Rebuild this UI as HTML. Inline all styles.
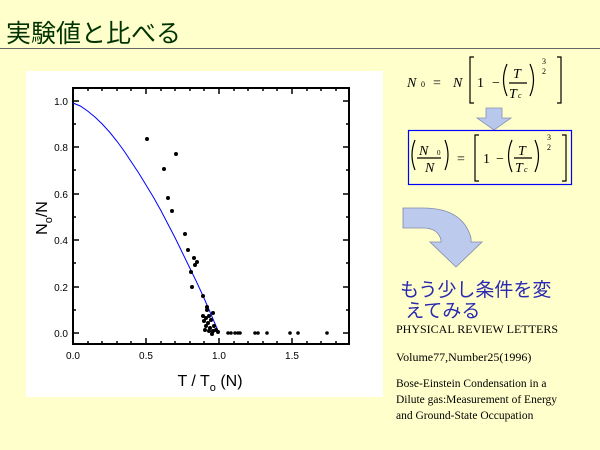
<!DOCTYPE html>
<html><head><meta charset="utf-8"><style>
body{margin:0;width:600px;height:450px;background:#ffffcc;position:relative;overflow:hidden;font-family:"Liberation Sans",sans-serif}
.a{position:absolute;white-space:nowrap}
.ser{font-family:"Liberation Serif",serif;color:#000}
</style></head><body>
<div class="a" style="left:6px;top:19px;font-size:25px;color:#003300;font-family:'Liberation Sans','Noto Sans CJK JP',sans-serif;line-height:30px">実験値と比べる</div>
<div class="a" style="left:0;top:48px;width:600px;height:1px;background:#666"></div>
<div class="a" style="left:26px;top:71px;width:357px;height:326px;background:#fff"></div>
<svg class="a" style="left:0;top:0" width="600" height="450" font-family="Liberation Sans, sans-serif">
<rect x="73" y="88" width="276" height="256" fill="none" stroke="#000" stroke-width="2"/>
<g stroke="#000" stroke-width="1.5">
<path d="M73 101h6M73 147h6M73 194h6M73 240h6M73 287h6M73 333h6M349 101h-6M349 147h-6M349 194h-6M349 240h-6M349 287h-6M349 333h-6"/>
<path d="M73 124h3M73 170h3M73 217h3M73 263h3M73 310h3M349 124h-3M349 170h-3M349 217h-3M349 263h-3M349 310h-3"/>
<path d="M146 344v-6M219 344v-6M292 344v-6M146 88v6M219 88v6M292 88v6"/>
<path d="M88 344v-3M102 344v-3M117 344v-3M131 344v-3M161 344v-3M175 344v-3M190 344v-3M204 344v-3M234 344v-3M248 344v-3M263 344v-3M277 344v-3M307 344v-3M321 344v-3M336 344v-3"/>
<path d="M88 88v3M102 88v3M117 88v3M131 88v3M161 88v3M175 88v3M190 88v3M204 88v3M234 88v3M248 88v3M263 88v3M277 88v3M307 88v3M321 88v3M336 88v3"/>
</g>
<g font-size="10" fill="#000" text-anchor="end">
<text x="68" y="105">1.0</text><text x="68" y="151">0.8</text><text x="68" y="198">0.6</text><text x="68" y="244">0.4</text><text x="68" y="291">0.2</text><text x="68" y="337">0.0</text>
</g>
<g font-size="10" fill="#000" text-anchor="middle">
<text x="73" y="359">0.0</text><text x="146" y="359">0.5</text><text x="219" y="359">1.0</text><text x="292" y="359">1.5</text>
</g>
<text x="210" y="386" font-size="16" text-anchor="middle">T / T<tspan font-size="11" dy="5">o</tspan><tspan dy="-5"> (N)</tspan></text>
<text transform="translate(47,218) rotate(-90)" font-size="16" text-anchor="middle">N<tspan font-size="11" dy="5">o</tspan><tspan dy="-5">/N</tspan></text>
<polyline fill="none" stroke="#0000ff" stroke-width="1" points="73,103 80.3,106 87.6,111 94.9,117 102.2,124 109.5,132 116.8,141 124.1,151 131.4,162 138.7,173 146,185 153.3,197 160.6,210 167.9,224 175.2,238 182.5,253 189.8,268 197.1,283 204.4,299 211.7,316 219,333"/>
<g fill="#000">
<circle cx="147" cy="139" r="2"/><circle cx="176" cy="154" r="2"/><circle cx="164" cy="169" r="2"/><circle cx="168" cy="198" r="2"/><circle cx="172" cy="211" r="2"/><circle cx="185" cy="234" r="2"/><circle cx="188" cy="250" r="2"/><circle cx="194" cy="258" r="2"/><circle cx="197" cy="262" r="2"/><circle cx="195" cy="265" r="2"/><circle cx="191" cy="272" r="2"/><circle cx="192" cy="287" r="2"/><circle cx="203" cy="296" r="2"/><circle cx="207" cy="307" r="2"/><circle cx="207" cy="310" r="2"/><circle cx="213" cy="313" r="2"/>
<circle cx="203" cy="316" r="2"/><circle cx="206" cy="318" r="2"/><circle cx="209" cy="316" r="2"/><circle cx="204" cy="321" r="2"/><circle cx="208" cy="323" r="2"/><circle cx="211" cy="320" r="2"/><circle cx="206" cy="326" r="2"/><circle cx="210" cy="328" r="2"/><circle cx="214" cy="326" r="2"/><circle cx="205" cy="330" r="2"/><circle cx="209" cy="331" r="2"/><circle cx="213" cy="331" r="2"/><circle cx="216" cy="330" r="2"/><circle cx="218" cy="332" r="2"/><circle cx="212" cy="334" r="2"/>
<circle cx="228" cy="333" r="1.8"/><circle cx="231" cy="333" r="1.8"/><circle cx="235" cy="333" r="1.8"/><circle cx="238" cy="333" r="1.8"/><circle cx="240" cy="333" r="1.8"/><circle cx="255" cy="333" r="1.8"/><circle cx="258" cy="333" r="1.8"/><circle cx="267" cy="333" r="1.8"/><circle cx="290" cy="333" r="1.8"/><circle cx="298" cy="333" r="1.8"/><circle cx="327" cy="333" r="1.8"/>
</g>
<g font-family="Liberation Serif, serif" font-style="italic" font-size="14" fill="#000">
<text x="407" y="87">N</text><text x="421" y="87" font-size="8" font-style="normal">0</text>
<text x="433" y="87" font-style="normal">=</text><text x="453" y="87">N</text>
<text x="477" y="87" font-style="normal">1</text><text x="492" y="87" font-style="normal">−</text>
<text x="513" y="78">T</text><text x="509" y="98">T</text><text x="518" y="98" font-size="8">c</text>
<text x="542" y="64" font-size="8" font-style="normal">3</text><text x="542" y="74" font-size="8" font-style="normal">2</text>
</g>
<g fill="none" stroke="#000" stroke-width="1.2">
<path d="M474 57h-4v46h4M557 57h4v46h-4"/>
<path d="M507 64q-7 16 0 32M530 64q7 16 0 32M509 83h18"/>
</g>
<path d="M486 108h16v10h9l-17 12l-17-12h9z" fill="#b8c8ec" stroke="#8890b0" stroke-width="0.8"/>
<rect x="408.5" y="130.5" width="163" height="54" fill="none" stroke="#0000ff" stroke-width="1.2"/>
<g font-family="Liberation Serif, serif" font-style="italic" font-size="14" fill="#000">
<text x="419" y="155">N</text><text x="437" y="155" font-size="7" font-style="normal">0</text><text x="425" y="172">N</text>
<text x="457" y="163" font-style="normal">=</text>
<text x="483" y="163" font-style="normal">1</text><text x="496" y="163" font-style="normal">−</text>
<text x="518" y="155">T</text><text x="515" y="172">T</text><text x="524" y="172" font-size="8">c</text>
<text x="547" y="140" font-size="8" font-style="normal">3</text><text x="547" y="150" font-size="8" font-style="normal">2</text>
</g>
<g fill="none" stroke="#000" stroke-width="1.2">
<path d="M415 140q-6 15 0 30M445 140q6 15 0 30M417 158h24"/>
<path d="M479 135h-4v46h4M562 135h4v46h-4"/>
<path d="M512 140q-7 16 0 32M535 140q7 16 0 32M514 158h18"/>
</g>
<path d="M403 208h20q40 0 48 30v4h11l-26 25l-26-25h11v-2q-3-12-18-12h-20z" fill="#bccaee" stroke="#8088a8" stroke-width="0.8"/>
</svg>
<div class="a" style="left:400px;top:280px;font-size:19px;line-height:21px;color:#2a2ab0;font-family:'Liberation Sans','Noto Sans CJK JP',sans-serif">もう少し条件を変<br>&nbsp;えてみる</div>
<div class="a ser" style="left:396px;top:322px;font-size:12px">PHYSICAL REVIEW LETTERS</div>
<div class="a ser" style="left:396px;top:350px;font-size:12px">Volume77,Number25(1996)</div>
<div class="a ser" style="left:396px;top:376px;font-size:11.5px;line-height:16px">Bose-Einstein Condensation in a<br>Dilute gas:Measurement of Energy<br>and Ground-State Occupation</div>
</body></html>
